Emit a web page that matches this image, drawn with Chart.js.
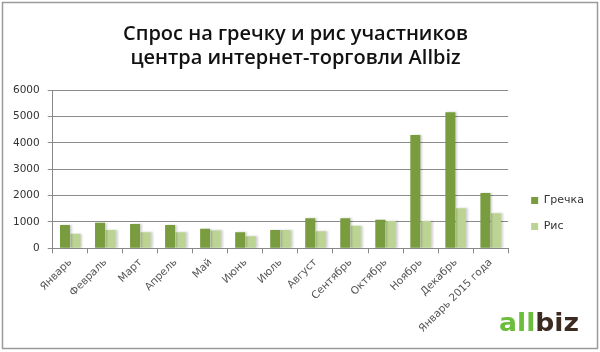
<!DOCTYPE html>
<html>
<head>
<meta charset="utf-8">
<script src="https://cdn.jsdelivr.net/npm/chart.js@4/dist/chart.umd.min.js"></script>
<style>
    body { margin: 0; background: #fff; }
    #wrap { width: 600px; height: 352px; position: relative; }
</style>
</head>
<body>
<div id="wrap"><canvas id="demand-chart" width="600" height="352"></canvas></div>
<script>
const months = ['Январь', 'Февраль', 'Март', 'Апрель', 'Май', 'Июнь', 'Июль', 'Август',
    'Сентябрь', 'Октябрь', 'Ноябрь', 'Декабрь', 'Январь 2015 года'];
const buckwheat = [880, 970, 920, 880, 740, 610, 690, 1140, 1140, 1085, 4290, 5160, 2100];
const rice = [550, 690, 610, 610, 680, 460, 690, 650, 860, 1035, 1035, 1520, 1330];
const titleLines = ['Спрос на гречку и рис участников', 'центра интернет-торговли Allbiz'];

// frame, bar shadows, logo, legend placement
const extras = {
    id: 'extras',
    afterLayout(chart) {
        let lg = chart.legend;
        let h = lg.bottom - lg.top;
        lg.top = 180;
        lg.bottom = lg.top + h;
        lg.left += 8;
        lg.right += 8;
    },
    beforeDatasetsDraw(chart) {
        let ctx = chart.ctx;
        ctx.save();
        ctx.shadowColor = 'rgba(0,0,0,0.18)';
        ctx.shadowOffsetX = 2;
        ctx.shadowOffsetY = 0;
        ctx.shadowBlur = 2;
    },
    afterDatasetsDraw(chart) {
        chart.ctx.restore();
    },
    afterDraw(chart) {
        let ctx = chart.ctx;
        ctx.save();
        ctx.strokeStyle = '#9a9a9a';
        ctx.lineWidth = 1.5;
        ctx.strokeRect(2.5, 2.5, 595, 346);

        // logo
        ctx.font = 'bold 25px "DejaVu Sans"';
        ctx.textBaseline = 'alphabetic';
        let w1 = ctx.measureText('all').width;
        let w2 = ctx.measureText('biz').width;
        let sx = 80 / (w1 + w2);
        ctx.translate(499, 331);
        ctx.scale(sx, 1);
        ctx.fillStyle = '#6cbd3c';
        ctx.fillText('all', 0, 0);
        ctx.fillStyle = '#3b2b20';
        ctx.fillText('biz', w1, 0);
        ctx.restore();
    }
};

new Chart(document.getElementById('demand-chart'), {
    type: 'bar',
    data: {
        labels: months,
        datasets: [{
            label: 'Гречка',
            data: buckwheat,
            backgroundColor: '#789c3e',
            categoryPercentage: 0.6,
            barPercentage: 0.95
        }, {
            label: 'Рис',
            data: rice,
            backgroundColor: '#bcd493',
            categoryPercentage: 0.6,
            barPercentage: 0.95
        }]
    },
    options: {
        responsive: false,
        animation: false,
        layout: { padding: { left: 5, right: 14, top: 0, bottom: 14 } },
        plugins: {
            title: {
                display: true,
                text: titleLines,
                color: '#111',
                font: { family: '"Open Sans"', size: 20, weight: '600', lineHeight: 1.2 },
                padding: { top: 22, bottom: 20 }
            },
            legend: {
                position: 'right',
                align: 'start',
                labels: {
                    boxWidth: 7,
                    boxHeight: 7,
                    padding: 15,
                    color: '#333',
                    font: { family: '"DejaVu Sans"', size: 11 }
                }
            },
            tooltip: { enabled: false }
        },
        scales: {
            x: {
                grid: { display: true, drawOnChartArea: false, drawTicks: true, tickLength: 5, color: '#888', offset: true },
                border: { color: '#888' },
                ticks: {
                    minRotation: 45, maxRotation: 45,
                    color: '#555',
                    font: { family: '"DejaVu Sans"', size: 10.5 }
                }
            },
            y: {
                min: 0, max: 6000,
                ticks: {
                    stepSize: 1000, color: '#333', padding: 8,
                    font: { family: '"DejaVu Sans"', size: 10.5 },
                    callback: v => String(v)
                },
                grid: { color: '#8c8c8c', tickLength: 5 },
                border: { color: '#888' }
            }
        }
    },
    plugins: [extras]
});
</script>
</body>
</html>
